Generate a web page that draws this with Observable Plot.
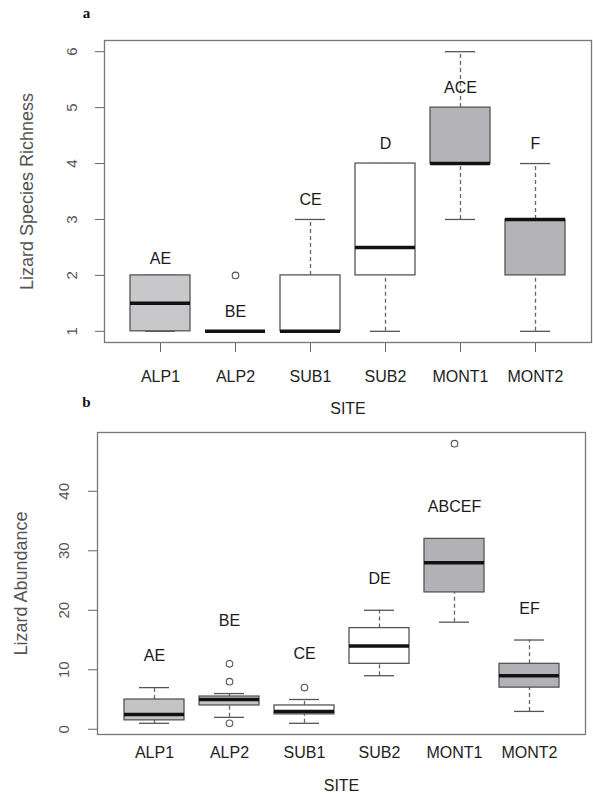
<!DOCTYPE html>
<html>
<head>
<meta charset="utf-8">
<script src="https://cdn.jsdelivr.net/npm/d3@7"></script>
<script src="https://cdn.jsdelivr.net/npm/@observablehq/plot@0.6"></script>
<style>
  html, body { margin: 0; padding: 0; background: #fff; }
  #wrap { position: relative; width: 593px; height: 794px; font-family: "Liberation Sans", Arial, sans-serif; }
  #wrap svg { position: absolute; left: 0; }
</style>
</head>
<body>
<div id="wrap"></div>
<script>
// ---- data ----
const sites = ["ALP1", "ALP2", "SUB1", "SUB2", "MONT1", "MONT2"];
const zones = ["alpine", "alpine", "subalpine", "subalpine", "montane", "montane"];

// Panel a: Lizard species richness
const richLow  = [1, 1, 1, 1, 3, 1];
const richQ1   = [1, 1, 1, 2, 4, 2];
const richMed  = [1.5, 1, 1, 2.5, 4, 3];
const richQ3   = [2, 1, 2, 4, 5, 3];
const richHigh = [2, 1, 3, 4, 6, 4];
const richOutSite = ["ALP2"];
const richOutVal  = [2];
const richLetters = ["AE", "BE", "CE", "D", "ACE", "F"];
const richLetterY = [2.3, 1.35, 3.35, 4.35, 5.35, 4.35];
const richTicks = [1, 2, 3, 4, 5, 6];

// Panel b: Lizard abundance
const abLow  = [1, 2, 1, 9, 18, 3];
const abQ1   = [1.5, 4, 2.5, 11, 23, 7];
const abMed  = [2.5, 5, 3, 14, 28, 9];
const abQ3   = [5, 5.5, 4, 17, 32, 11];
const abHigh = [7, 6, 5, 20, 32, 15];
const abOutSite = ["ALP2", "ALP2", "ALP2", "SUB1", "MONT1"];
const abOutVal  = [1, 8, 11, 7, 48];
const abLetters = ["AE", "BE", "CE", "DE", "ABCEF", "EF"];
const abLetterY = [12.4, 18.3, 12.7, 25.2, 37.3, 20.2];
const abTicks = [0, 10, 20, 30, 40];

const zoneDomain = ["alpine", "subalpine", "montane"];

function boxTable(low, q1, med, q3, high, letters, letterY) {
  return sites.map((s, i) => ({site: s, zone: zones[i], low: low[i], q1: q1[i], med: med[i], q3: q3[i], high: high[i], letter: letters[i], ly: letterY[i]}));
}
function outTable(ss, vs) { return ss.map((s, i) => ({site: s, v: vs[i]})); }

function panel(o) {
  const data = boxTable(...o.stats, o.letters, o.letterY);
  const outs = outTable(o.outSite, o.outVal);
  return Plot.plot({
    width: 593, height: o.height,
    marginLeft: o.ml, marginRight: o.mr, marginTop: o.mt, marginBottom: o.mb,
    style: {background: "transparent", fontFamily: "'Liberation Sans', Arial, sans-serif", color: "#222"},
    x: {type: "band", domain: sites, paddingInner: 0.2, paddingOuter: 0.34},
    y: {domain: o.ydomain},
    color: {type: "ordinal", domain: zoneDomain, range: o.fills},
    marks: [
      Plot.axisY({ticks: o.ticks, tickSize: 9, tickFormat: () => "", color: "#666", label: null}),
      Plot.text(o.ticks, {y: d => d, text: d => String(d), frameAnchor: "left", dx: -o.typad, rotate: -90,
        textAnchor: "middle", lineAnchor: "bottom", fontSize: 15, fill: "#555"}),
      Plot.axisX({tickSize: o.xtick, tickPadding: o.txpad, fontSize: 16, color: "#222", stroke: "#666", label: null}),
      // whiskers
      Plot.ruleX(data, {x: "site", y1: "low", y2: "q1", stroke: "#666", strokeWidth: 1.3, strokeDasharray: "4,3"}),
      Plot.ruleX(data, {x: "site", y1: "q3", y2: "high", stroke: "#666", strokeWidth: 1.3, strokeDasharray: "4,3"}),
      Plot.tickY(data, {x: "site", y: "low", stroke: "#555", strokeWidth: 1.3, insetLeft: 15, insetRight: 15}),
      Plot.tickY(data, {x: "site", y: "high", stroke: "#555", strokeWidth: 1.3, insetLeft: 15, insetRight: 15}),
      // boxes
      Plot.barY(data, {x: "site", y1: "q1", y2: "q3", fill: "zone", stroke: "#555", strokeWidth: 1.3}),
      Plot.tickY(data, {x: "site", y: "med", stroke: "#111", strokeWidth: 3.5}),
      // outliers
      Plot.dot(outs, {x: "site", y: "v", r: 3.3, stroke: "#555", strokeWidth: 1.1, fill: "white"}),
      // letters
      Plot.text(data, {x: "site", y: "ly", text: "letter", fontSize: 16, fill: "#1a1a1a"}),
      Plot.frame({stroke: "#777", strokeWidth: 1.3}),
      // titles
      Plot.text([o.ytitle], {text: d => d, frameAnchor: "left", rotate: -90, dx: o.ytdx, textAnchor: "middle", lineAnchor: "middle", fontSize: 18, fill: "#555"}),
      Plot.text(["SITE"], {text: d => d, frameAnchor: "bottom", dy: o.sitedy, textAnchor: "middle", lineAnchor: "middle", fontSize: 16, fill: "#222"}),
      Plot.text([o.tag], {text: d => d, frameAnchor: "top-left", dx: o.tagdx, dy: o.tagdy, textAnchor: "middle", lineAnchor: "middle", fontSize: 15, fontWeight: "bold", fontFamily: "'Liberation Serif', 'Times New Roman', serif", fill: "#111"})
    ]
  });
}

const wrap = document.getElementById("wrap");

const a = panel({
  height: 420, ml: 104, mr: 2, mt: 40, mb: 78,
  stats: [richLow, richQ1, richMed, richQ3, richHigh],
  letters: richLetters, letterY: richLetterY,
  outSite: richOutSite, outVal: richOutVal,
  ydomain: [0.8, 6.2], ticks: richTicks,
  fills: ["#c8c8cb", "#ffffff", "#b4b4b8"],
  typad: 28, xtick: 10, txpad: 18,
  ytitle: "Lizard Species Richness", ytdx: -77, sitedy: 66,
  tag: "a", tagdx: -18, tagdy: -27
});
a.style.top = "0px";
wrap.appendChild(a);

const b = panel({
  height: 404, ml: 97, mr: 8, mt: 42, mb: 60,
  stats: [abLow, abQ1, abMed, abQ3, abHigh],
  letters: abLetters, letterY: abLetterY,
  outSite: abOutSite, outVal: abOutVal,
  ydomain: [-0.88, 49.88], ticks: abTicks,
  fills: ["#c4c4c6", "#ffffff", "#b2b2b6"],
  typad: 29, xtick: 0, txpad: 12,
  ytitle: "Lizard Abundance", ytdx: -76, sitedy: 51,
  tag: "b", tagdx: -11, tagdy: -30
});
b.style.top = "390px";
wrap.appendChild(b);
</script>
</body>
</html>
